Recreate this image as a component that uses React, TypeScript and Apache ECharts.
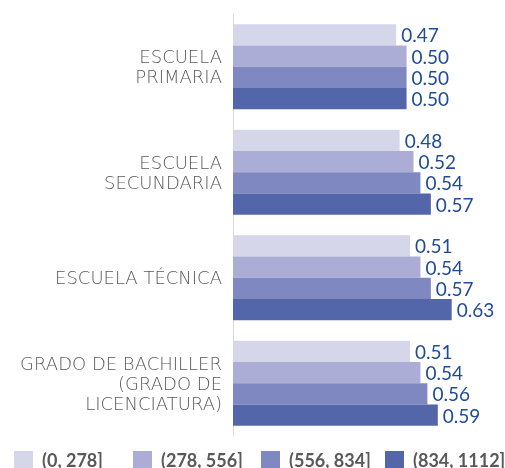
import React, { useEffect, useRef } from "react";
import * as echarts from "echarts";

const categories = [
  "ESCUELA\nPRIMARIA",
  "ESCUELA\nSECUNDARIA",
  "ESCUELA TÉCNICA",
  "GRADO DE BACHILLER\n(GRADO DE\nLICENCIATURA)",
];
const seriesNames = ["(0, 278]", "(278, 556]", "(556, 834]", "(834, 1112]"];
const values1 = [0.47, 0.48, 0.51, 0.51];
const values2 = [0.5, 0.52, 0.54, 0.54];
const values3 = [0.5, 0.54, 0.57, 0.56];
const values4 = [0.5, 0.57, 0.63, 0.59];
const colors = ["#d5d6ea", "#abadd6", "#7f88c0", "#5366aa"];
const legendLefts = [14, 133, 261, 385];

export default function App() {
  const ref = useRef<HTMLDivElement>(null);
  useEffect(() => {
    if (!ref.current) return;
    const chart = echarts.init(ref.current, undefined, { renderer: "svg" });
    const all = [values1, values2, values3, values4];
    chart.setOption({
      animation: false,
      grid: { left: 233, right: 29, top: 14, bottom: 32 },
      xAxis: {
        type: "value",
        min: 0,
        max: 0.7,
        show: false,
      },
      yAxis: {
        type: "category",
        data: categories,
        inverse: true,
        axisLine: { show: true, lineStyle: { color: "#d9d9d9", width: 1 } },
        axisTick: { show: false },
        axisLabel: {
          color: "#595959",
          fontFamily: "DejaVu Sans",
          fontWeight: 200,
          fontSize: 18,
          lineHeight: 20,
          margin: 11,
          align: "right",
        },
      },
      legend: seriesNames.map((n, i) => ({
        data: [n],
        left: legendLefts[i],
        top: 451,
        itemWidth: 19,
        itemHeight: 18,
        itemGap: 0,
        icon: "rect",
        textStyle: {
          color: "#595959",
          fontFamily: "Lato",
          fontWeight: "bold",
          fontSize: 18,
          padding: [0, 0, 0, 4],
        },
        padding: 0,
      })),
      series: seriesNames.map((n, i) => ({
        name: n,
        type: "bar",
        data: all[i],
        barGap: "0%",
        barCategoryGap: "19.5%",
        itemStyle: { color: colors[i] },
        label: {
          show: true,
          position: "right",
          distance: 5,
          color: "#1f4b98",
          fontFamily: "Lato",
          fontSize: 19,
          formatter: (p: any) => p.value.toFixed(2),
        },
      })),
    });
    return () => chart.dispose();
  }, []);
  return (
    <div
      ref={ref}
      style={{ position: "fixed", left: 0, top: 0, width: 505, height: 468 }}
    />
  );
}
